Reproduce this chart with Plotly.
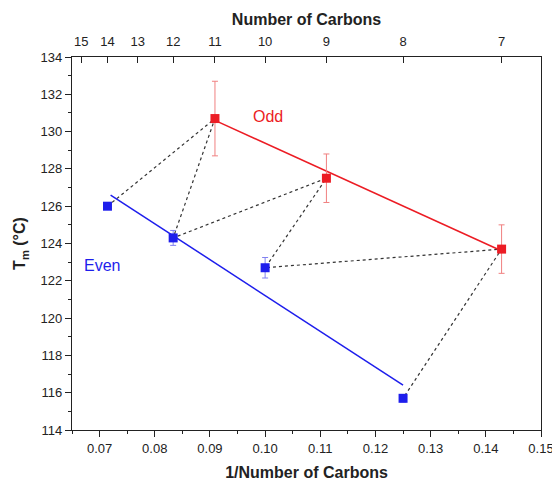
import plotly.graph_objects as go

# Data
even_n = [14, 12, 10, 8]
even_tm = [126.0, 124.3, 122.7, 115.7]
even_err = [0.0, 0.4, 0.55, 0.2]

odd_n = [11, 9, 7]
odd_tm = [130.7, 127.5, 123.7]
odd_err = [2.0, 1.3, 1.3]

even_fit_x = [0.072, 0.125]
even_fit_y = [126.6, 116.4]
odd_fit_x = [0.0909, 0.1429]
odd_fit_y = [130.6, 123.6]

zigzag_n = [14, 11, 12, 9, 10, 7, 8]
top_ticks_n = [15, 14, 13, 12, 11, 10, 9, 8, 7]

RED = "#ec1c24"
BLUE = "#1e1eec"
FONT = "Liberation Sans, Arial, sans-serif"

lookup = dict(zip(even_n, even_tm))
lookup.update(dict(zip(odd_n, odd_tm)))
zig_x = [1.0 / n for n in zigzag_n]
zig_y = [lookup[n] for n in zigzag_n]

fig = go.Figure()
fig.add_trace(go.Scatter(x=zig_x, y=zig_y, mode="lines",
                         line=dict(color="#333333", width=1.2, dash="dot"),
                         hoverinfo="skip", showlegend=False))
fig.add_trace(go.Scatter(x=even_fit_x, y=even_fit_y, mode="lines",
                         line=dict(color=BLUE, width=1.5), showlegend=False))
fig.add_trace(go.Scatter(x=odd_fit_x, y=odd_fit_y, mode="lines",
                         line=dict(color=RED, width=1.5), showlegend=False))
fig.add_trace(go.Scatter(x=[1.0 / n for n in even_n], y=even_tm, mode="markers",
                         marker=dict(symbol="square", size=9, color=BLUE),
                         error_y=dict(type="data", array=even_err, color="#8080f0",
                                      thickness=1, width=3),
                         showlegend=False))
fig.add_trace(go.Scatter(x=[1.0 / n for n in odd_n], y=odd_tm, mode="markers",
                         marker=dict(symbol="square", size=9, color=RED),
                         error_y=dict(type="data", array=odd_err, color="#f08080",
                                      thickness=1, width=3),
                         showlegend=False))
# invisible trace for top axis
fig.add_trace(go.Scatter(x=[1.0 / n for n in top_ticks_n], y=[120] * len(top_ticks_n),
                         xaxis="x2", mode="markers", marker=dict(opacity=0),
                         showlegend=False, hoverinfo="skip"))

fig.add_annotation(x=0.1005, y=130.8, text="Odd", showarrow=False,
                   font=dict(color=RED, size=16, family=FONT), xanchor="center")
fig.add_annotation(x=0.0705, y=122.8, text="Even", showarrow=False,
                   font=dict(color=BLUE, size=16, family=FONT), xanchor="center")

fig.update_layout(
    width=552, height=478,
    margin=dict(l=64, r=19, t=49, b=56, autoexpand=False),
    plot_bgcolor="white", paper_bgcolor="white",
    font=dict(family=FONT, size=13, color="#222222"),
    xaxis=dict(range=[0.065, 0.15], tickvals=[0.07, 0.08, 0.09, 0.10, 0.11, 0.12, 0.13, 0.14, 0.15],
               ticktext=["0.07", "0.08", "0.09", "0.10", "0.11", "0.12", "0.13", "0.14", "0.15"],
               ticks="outside", ticklen=6, tickwidth=1, tickcolor="#222", automargin=False,
               minor=dict(ticks="outside", ticklen=3, dtick=0.005, tick0=0.065, tickcolor="#222"),
               showgrid=False, zeroline=False, showline=True, linecolor="#222", linewidth=1.2,
               title=dict(text="<b>1/Number of Carbons</b>", font=dict(size=16), standoff=12)),
    xaxis2=dict(overlaying="x", side="top", range=[0.065, 0.15], automargin=False,
                tickvals=[1.0 / n for n in top_ticks_n], ticktext=[str(n) for n in top_ticks_n],
                ticks="inside", ticklen=6, tickcolor="#222", showgrid=False, zeroline=False,
                showline=True, linecolor="#222", linewidth=1.2, ticklabelstandoff=5,
                title=dict(text="<b>Number of Carbons</b>", font=dict(size=16), standoff=4)),
    yaxis=dict(range=[114, 134], dtick=2, ticks="outside", ticklen=6, tickcolor="#222",
               minor=dict(ticks="outside", ticklen=3, dtick=1, tickcolor="#222"),
               showgrid=False, zeroline=False, showline=True, mirror=True, automargin=False,
               linecolor="#222", linewidth=1.2,
               title=dict(text="<b>T<sub>m</sub> (°C)</b>", font=dict(size=16), standoff=10)),
)

fig.write_html("out.html")
